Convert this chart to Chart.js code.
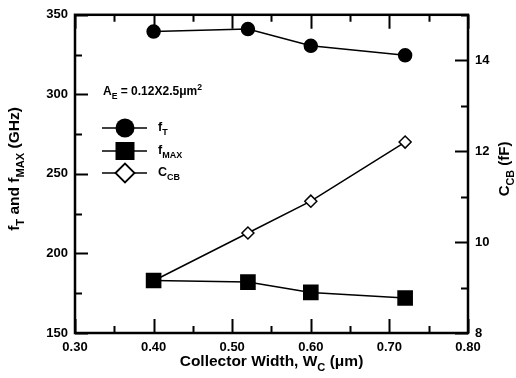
<!DOCTYPE html>
<html>
<head>
<meta charset="utf-8">
<script src="https://cdn.jsdelivr.net/npm/chart.js@4/dist/chart.umd.min.js"></script>
<style>
  html, body { margin: 0; padding: 0; background: #fff; }
</style>
</head>
<body>
<canvas id="grafico" width="516" height="378"></canvas>
<script>
// Datos
const anchoColector = [0.40, 0.52, 0.60, 0.72];
const valoresFT = [339.5, 341, 330.5, 324.5];
const valoresFMax = [183, 182, 175.5, 172];
const valoresCCB = [9.15, 10.2, 10.9, 12.2];

const ticksX = [0.30, 0.40, 0.50, 0.60, 0.70, 0.80];
const ticksIzq = [150, 200, 250, 300, 350];
const ticksDer = [8, 10, 12, 14];

const FUENTE = '"Liberation Sans", Arial, sans-serif';

function puntos(xs, ys) {
  return xs.map((x, i) => ({ x: x, y: ys[i] }));
}

// texto con subindices / superindices
function anchoRico(ctx, partes, tam) {
  let w = 0;
  partes.forEach(p => {
    const t = p.m === 'n' ? tam : tam * 0.72;
    ctx.font = 'bold ' + t + 'px ' + FUENTE;
    w += ctx.measureText(p.t).width;
  });
  return w;
}

function textoRico(ctx, partes, x, y, tam) {
  ctx.textBaseline = 'middle';
  ctx.textAlign = 'left';
  let cx = x;
  partes.forEach(p => {
    let t = tam, dy = 0;
    if (p.m === 'sub') { t = tam * 0.72; dy = tam * 0.38; }
    if (p.m === 'sup') { t = tam * 0.72; dy = -tam * 0.38; }
    ctx.font = 'bold ' + t + 'px ' + FUENTE;
    ctx.fillText(p.t, cx, y + dy);
    cx += ctx.measureText(p.t).width;
  });
}

function tituloCentrado(ctx, partes, cx, cy, tam, giro) {
  ctx.save();
  ctx.translate(cx, cy);
  ctx.rotate(giro);
  const w = anchoRico(ctx, partes, tam);
  textoRico(ctx, partes, -w / 2, 0, tam);
  ctx.restore();
}

const marco = {
  id: 'marco',
  afterDraw(chart) {
    const { ctx, chartArea: a, scales } = chart;
    ctx.save();
    ctx.strokeStyle = '#000';
    ctx.fillStyle = '#000';
    ctx.lineWidth = 2.5;
    ctx.strokeRect(a.left, a.top, a.right - a.left, a.bottom - a.top);

    // marcas hacia dentro
    ctx.lineWidth = 2;
    ctx.beginPath();
    for (let v = 0.30; v <= 0.8001; v += 0.05) {
      const px = Math.round(scales.x.getPixelForValue(v)) + 0.5;
      const mayor = Math.abs(v * 10 - Math.round(v * 10)) < 0.01;
      const l = mayor ? 14 : 7;
      ctx.moveTo(px, a.bottom); ctx.lineTo(px, a.bottom - l);
      ctx.moveTo(px, a.top); ctx.lineTo(px, a.top + l);
    }
    for (let v = 150; v <= 350; v += 25) {
      const py = Math.round(scales.y.getPixelForValue(v)) + 0.5;
      const l = v % 50 === 0 ? 13 : 7;
      ctx.moveTo(a.left, py); ctx.lineTo(a.left + l, py);
    }
    for (let v = 8; v <= 15; v += 1) {
      const py = Math.round(scales.yDer.getPixelForValue(v)) + 0.5;
      const l = v % 2 === 0 ? 13 : 7;
      ctx.moveTo(a.right, py); ctx.lineTo(a.right - l, py);
    }
    ctx.stroke();

    // titulos de ejes
    tituloCentrado(ctx, [{ t: 'Collector Width, W', m: 'n' }, { t: 'C', m: 'sub' }, { t: ' (\u03bcm)', m: 'n' }],
      (a.left + a.right) / 2, 362, 15.5, 0);
    tituloCentrado(ctx, [{ t: 'f', m: 'n' }, { t: 'T', m: 'sub' }, { t: ' and f', m: 'n' }, { t: 'MAX', m: 'sub' }, { t: ' (GHz)', m: 'n' }],
      15, 169, 15.5, -Math.PI / 2);
    tituloCentrado(ctx, [{ t: 'C', m: 'n' }, { t: 'CB', m: 'sub' }, { t: ' (fF)', m: 'n' }],
      505, 169, 15, -Math.PI / 2);

    // leyenda
    textoRico(ctx, [{ t: 'A', m: 'n' }, { t: 'E', m: 'sub' }, { t: ' = 0.12X2.5\u03bcm', m: 'n' }, { t: '2', m: 'sup' }],
      103, 92, 12);
    const filas = [
      { y: 128, forma: 'circulo', txt: [{ t: 'f', m: 'n' }, { t: 'T', m: 'sub' }] },
      { y: 151, forma: 'cuadro', txt: [{ t: 'f', m: 'n' }, { t: 'MAX', m: 'sub' }] },
      { y: 173, forma: 'rombo', txt: [{ t: 'C', m: 'n' }, { t: 'CB', m: 'sub' }] }
    ];
    filas.forEach(f => {
      ctx.lineWidth = 1.5;
      ctx.beginPath();
      ctx.moveTo(102, f.y); ctx.lineTo(147, f.y);
      ctx.stroke();
      const cx = 125;
      ctx.beginPath();
      if (f.forma === 'circulo') {
        ctx.arc(cx, f.y, 9.5, 0, Math.PI * 2);
        ctx.fillStyle = '#000'; ctx.fill();
      } else if (f.forma === 'cuadro') {
        ctx.rect(cx - 9.5, f.y - 9, 19, 18);
        ctx.fillStyle = '#000'; ctx.fill();
      } else {
        ctx.moveTo(cx - 9.5, f.y); ctx.lineTo(cx, f.y - 9.5);
        ctx.lineTo(cx + 9.5, f.y); ctx.lineTo(cx, f.y + 9.5);
        ctx.closePath();
        ctx.fillStyle = '#fff'; ctx.fill();
        ctx.lineWidth = 1.8; ctx.stroke();
      }
      ctx.fillStyle = '#000';
      textoRico(ctx, f.txt, 158, f.y, 12.5);
    });
    ctx.restore();
  }
};

const fuenteTicks = { family: FUENTE, size: 13, weight: 'bold' };

new Chart(document.getElementById('grafico').getContext('2d'), {
  type: 'line',
  data: {
    datasets: [
      {
        label: 'fT',
        data: puntos(anchoColector, valoresFT),
        yAxisID: 'y',
        borderColor: '#000', borderWidth: 1.5,
        pointStyle: 'circle', pointRadius: 6.5,
        pointBackgroundColor: '#000', pointBorderColor: '#000',
        tension: 0
      },
      {
        label: 'fMAX',
        data: puntos(anchoColector, valoresFMax),
        yAxisID: 'y',
        borderColor: '#000', borderWidth: 1.5,
        pointStyle: 'rect', pointRadius: 10,
        pointBackgroundColor: '#000', pointBorderColor: '#000',
        tension: 0
      },
      {
        label: 'CCB',
        data: puntos(anchoColector, valoresCCB),
        yAxisID: 'yDer',
        borderColor: '#000', borderWidth: 1.5,
        pointStyle: 'rectRot', pointRadius: 6,
        pointBackgroundColor: '#fff', pointBorderColor: '#000', pointBorderWidth: 1.5,
        tension: 0
      }
    ]
  },
  options: {
    responsive: false,
    animation: false,
    events: [],
    layout: { padding: { top: 10, left: 0, right: 0, bottom: 0 } },
    plugins: {
      legend: { display: false },
      tooltip: { enabled: false }
    },
    scales: {
      x: {
        type: 'linear',
        min: 0.30, max: 0.80,
        afterBuildTicks: s => { s.ticks = ticksX.map(v => ({ value: v })); },
        afterFit: s => { s.height = 45; },
        grid: { display: false, drawTicks: false },
        border: { display: false },
        ticks: { color: '#000', font: fuenteTicks, padding: 7, maxRotation: 0,
          callback: v => Number(v).toFixed(2) }
      },
      y: {
        position: 'left',
        min: 150, max: 350,
        afterBuildTicks: s => { s.ticks = ticksIzq.map(v => ({ value: v })); },
        afterFit: s => { s.width = 75; },
        grid: { display: false, drawTicks: false },
        border: { display: false },
        ticks: { color: '#000', font: fuenteTicks, padding: 7 }
      },
      yDer: {
        position: 'right',
        min: 8, max: 15,
        afterBuildTicks: s => { s.ticks = ticksDer.map(v => ({ value: v })); },
        afterFit: s => { s.width = 48; },
        grid: { display: false, drawTicks: false },
        border: { display: false },
        ticks: { color: '#000', font: fuenteTicks, padding: 7 }
      }
    }
  },
  plugins: [marco]
});
</script>
</body>
</html>
